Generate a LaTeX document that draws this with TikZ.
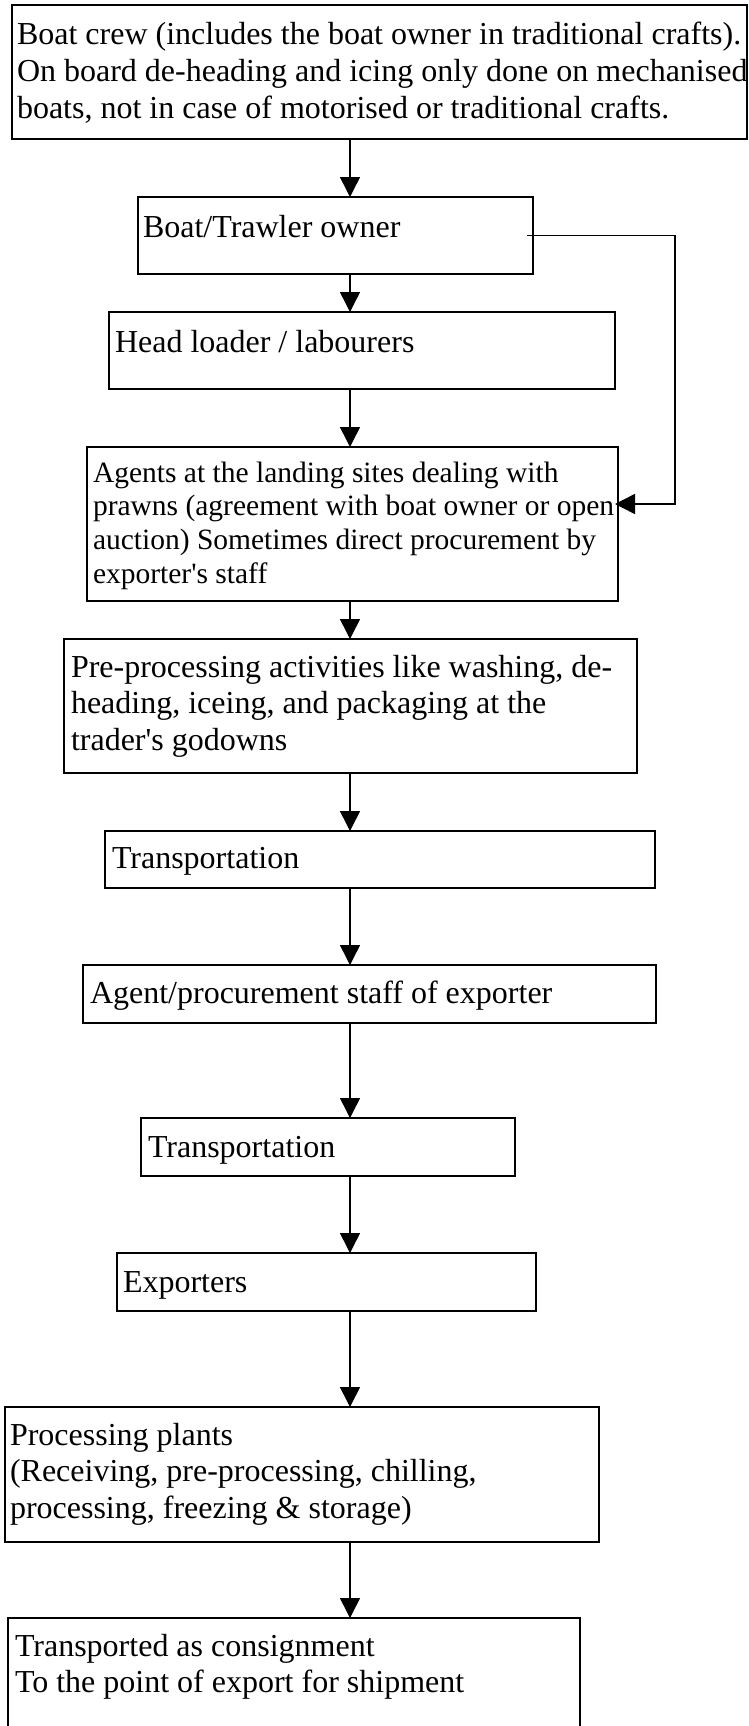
\documentclass[tikz,border=0pt]{standalone}
\usepackage{fontspec}
\setmainfont{Liberation Serif}
\usetikzlibrary{arrows.meta}
\hyphenpenalty=10000
\exhyphenpenalty=10000
\begin{document}
\begin{tikzpicture}[x=1pt,y=-1pt,
  box/.style={draw, line width=1.5pt, rectangle, inner sep=0pt, outer sep=0pt, anchor=north west},
  txt/.style={anchor=base west, inner sep=0pt, outer sep=0pt, align=left, font=\fontsize{32}{36.6}\selectfont,
    execute at begin node={\spaceskip=8pt\relax\xspaceskip=8pt\relax}},
  smalltxt/.style={anchor=base west, inner sep=0pt, outer sep=0pt, align=left, font=\fontsize{29.5}{33.8}\selectfont,
    execute at begin node={\spaceskip=7.4pt\relax\xspaceskip=7.4pt\relax}},
  arr/.style={line width=1.5pt, -{Triangle[length=20pt,width=20pt]}}]
\clip (0,0) rectangle (748,1726);
\fill[white] (0,0) rectangle (748,1726);
\coordinate (ax) at (350,0);
% boxes
\node[box, minimum width=735pt, minimum height=134pt] (b1) at (12,5) {};
\node[box, minimum width=395pt, minimum height=77pt] (b2) at (138,197) {};
\node[box, minimum width=506pt, minimum height=77pt] (b3) at (109,312) {};
\node[box, minimum width=531pt, minimum height=154pt] (b4) at (87,447) {};
\node[box, minimum width=573pt, minimum height=134pt] (b5) at (64,639) {};
\node[box, minimum width=550pt, minimum height=57pt] (b6) at (105,831) {};
\node[box, minimum width=573pt, minimum height=58pt] (b7) at (83,965) {};
\node[box, minimum width=374pt, minimum height=58pt] (b8) at (141,1118) {};
\node[box, minimum width=419pt, minimum height=58pt] (b9) at (117,1253) {};
\node[box, minimum width=594pt, minimum height=135pt] (b10) at (5,1407) {};
\node[box, minimum width=572pt, minimum height=130pt] (b11) at (8,1618) {};
% texts
\node[txt, text width=780pt] (t1) at (17,45) {Boat crew (includes the boat owner in traditional crafts).\\On board de-heading and icing only done on mechanised\\boats, not in case of motorised or traditional crafts.};
\node[txt, text width=385pt] (t2) at (143,237) {Boat/Trawler owner};
\node[txt, text width=495pt] (t3) at (115,352) {Head loader / labourers};
\node[smalltxt, text width=600pt] (t4) at (93,482) {Agents at the landing sites dealing with\\prawns (agreement with boat owner or open\\auction) Sometimes direct procurement by\\exporter\textquotesingle s staff};
\node[txt, text width=600pt] (t5) at (71,677) {Pre-processing activities like washing, de-\\heading, iceing, and packaging at the\\trader\textquotesingle s godowns};
\node[txt, text width=530pt] (t6) at (112,868) {Transportation};
\node[txt, text width=560pt] (t7) at (90,1003) {Agent/procurement staff of exporter};
\node[txt, text width=360pt] (t8) at (148,1157) {Transportation};
\node[txt, text width=400pt] (t9) at (123,1292) {Exporters};
\node[txt, text width=580pt] (t10) at (10,1445) {Processing plants\\(Receiving, pre-processing, chilling,\\processing, freezing \& storage)};
\node[txt, text width=560pt] (t11) at (15,1656) {Transported as consignment\\To the point of export for shipment};
% connectors
\draw[arr] (b1.south -| ax) -- (b2.north -| ax);
\draw[arr] (b2.south -| ax) -- (b3.north -| ax);
\draw[arr] (b3.south -| ax) -- (b4.north -| ax);
\draw[arr] (b4.south -| ax) -- (b5.north -| ax);
\draw[arr] (b5.south -| ax) -- (b6.north -| ax);
\draw[arr] (b6.south -| ax) -- (b7.north -| ax);
\draw[arr] (b7.south -| ax) -- (b8.north -| ax);
\draw[arr] (b8.south -| ax) -- (b9.north -| ax);
\draw[arr] (b9.south -| ax) -- (b10.north -| ax);
\draw[arr] (b10.south -| ax) -- (b11.north -| ax);
\coordinate (sideturn) at (675,0);
\draw[arr] ([xshift=-6pt]b2.east) -- (b2.east -| sideturn) |- ([xshift=-3pt,yshift=20pt]b4.east);
\end{tikzpicture}
\end{document}
